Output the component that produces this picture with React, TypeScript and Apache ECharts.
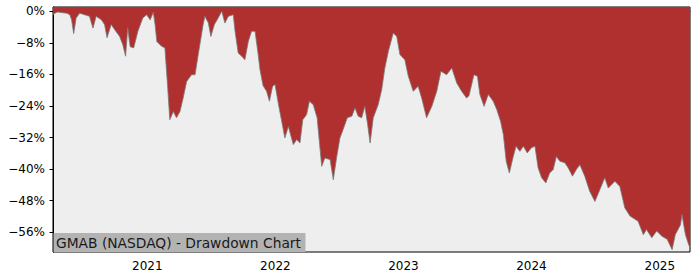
import React, { useEffect, useRef } from "react";
import * as echarts from "echarts";

const dates: string[] = [
  "2020-04-07","2020-04-15","2020-04-20","2020-05-05","2020-05-16","2020-05-25","2020-05-30","2020-06-05",
  "2020-06-12","2020-06-22","2020-07-06","2020-07-20","2020-07-30","2020-08-08","2020-08-23","2020-09-01",
  "2020-09-08","2020-09-20","2020-09-30","2020-10-14","2020-10-23","2020-10-31","2020-11-06","2020-11-13",
  "2020-11-23","2020-12-05","2020-12-19","2020-12-30",
  "2021-01-09","2021-01-18","2021-01-23","2021-01-28","2021-02-06","2021-02-11","2021-02-20","2021-02-28",
  "2021-03-06","2021-03-16","2021-03-25","2021-04-04","2021-04-13","2021-04-23","2021-05-07","2021-05-17",
  "2021-05-26","2021-06-09","2021-06-14","2021-06-24","2021-07-01","2021-07-11","2021-07-22","2021-08-01",
  "2021-08-10","2021-08-20","2021-09-03","2021-09-08","2021-09-17","2021-09-27","2021-10-06","2021-10-16",
  "2021-10-25","2021-11-04","2021-11-13","2021-11-18","2021-11-27","2021-12-07","2021-12-15","2021-12-24",
  "2021-12-31",
  "2022-01-10","2022-01-19","2022-01-28","2022-02-07","2022-02-21","2022-03-03","2022-03-12","2022-03-20",
  "2022-03-31","2022-04-08","2022-04-19","2022-04-30","2022-05-13","2022-05-22","2022-06-06","2022-06-15",
  "2022-06-25","2022-07-04","2022-07-13","2022-07-25","2022-08-07","2022-08-16","2022-08-25","2022-09-04",
  "2022-09-13","2022-09-21","2022-09-28","2022-10-07","2022-10-21","2022-10-31","2022-11-09","2022-11-19",
  "2022-12-03","2022-12-13","2022-12-22",
  "2023-01-05","2023-01-15","2023-01-29","2023-02-12","2023-02-22","2023-03-08","2023-03-23","2023-04-06",
  "2023-04-18","2023-05-04","2023-05-19","2023-06-02","2023-06-16","2023-06-30","2023-07-07","2023-07-21",
  "2023-07-31","2023-08-07","2023-08-19","2023-08-31","2023-09-14","2023-09-24","2023-10-05","2023-10-13",
  "2023-10-21","2023-10-30","2023-11-09","2023-11-18","2023-11-29","2023-12-09","2023-12-20",
  "2024-01-01","2024-01-11","2024-01-20","2024-01-30","2024-02-11","2024-02-22","2024-03-03","2024-03-12",
  "2024-03-22","2024-04-05","2024-04-15","2024-04-27","2024-05-08","2024-05-18","2024-06-01","2024-06-15",
  "2024-06-30","2024-07-14","2024-07-28","2024-08-07","2024-08-26","2024-09-09","2024-09-23","2024-10-08",
  "2024-10-31","2024-11-15","2024-11-24","2024-12-09","2024-12-23",
  "2025-01-07","2025-01-22","2025-02-05","2025-02-14","2025-03-01","2025-03-05","2025-03-15","2025-03-24",
  "2025-03-28"
];

const drawdown: number[] = [
  -0.9,-0.4,-0.2,-0.4,-0.5,-0.9,-2.2,-5.7,
  -1.7,-0.5,-0.9,-1.3,-4.3,-1.3,-2.2,-3.4,
  -6.7,-3.4,-4.7,-6.4,-8.5,-11.4,-4.2,-9.0,
  -9.3,-5.1,-1.7,-0.9,
  -2.2,-0.3,-3.4,-7.7,-8.5,-8.9,-9.3,-19.4,
  -27.5,-25.4,-27.0,-25.4,-22.0,-17.8,-16.1,-16.1,
  -11.0,-3.4,-1.3,-3.0,-6.4,-3.4,-1.7,0,
  -3.0,-1.3,-0.9,-5.1,-10.6,-11.4,-12.3,-7.6,
  -5.1,-5.1,-11.0,-14.8,-18.9,-20.3,-22.8,-19.0,
  -18.6,
  -23.7,-27.9,-32.1,-29.2,-33.8,-32.5,-33.4,-27.5,
  -26.2,-22.8,-23.7,-27.0,-39.3,-37.2,-37.6,-42.7,
  -36.8,-32.1,-30.0,-27.0,-26.6,-24.5,-26.6,-27.0,
  -24.1,-28.7,-33.4,-27.0,-23.7,-19.9,-14.4,-10.2,
  -5.5,-6.4,-11.0,
  -12.3,-16.5,-20.3,-19.0,-22.0,-27.0,-24.1,-20.3,
  -15.2,-16.1,-14.4,-18.2,-20.3,-22.0,-21.4,-16.1,
  -16.5,-21.1,-24.1,-21.1,-22.8,-24.9,-27.9,-31.3,
  -38.0,-41.0,-37.2,-34.2,-35.5,-34.2,-35.9,
  -34.6,-34.2,-39.7,-42.2,-43.5,-41.0,-40.1,-36.8,
  -38.0,-38.4,-39.7,-41.8,-40.1,-38.9,-41.8,-45.6,
  -48.2,-45.2,-42.2,-44.8,-43.1,-44.4,-49.8,-51.9,
  -53.2,-56.6,-55.3,-57.4,-55.7,
  -57.0,-57.8,-60.4,-56.6,-54.1,-51.5,-56.6,-59.1,
  -59.9
];

const yTicks: number[] = [0, -8, -16, -24, -32, -40, -48, -56];
const yearTicks: number[] = [2021, 2022, 2023, 2024, 2025];
const xStart = "2020-04-07";
const xEnd = "2025-03-28";
const title = "GMAB (NASDAQ) - Drawdown Chart";

const ts = (s: string) => Date.parse(s + "T00:00:00Z");

export default function App() {
  const ref = useRef<HTMLDivElement>(null);
  useEffect(() => {
    if (!ref.current) return;
    const chart = echarts.init(ref.current, null, { renderer: "svg" });
    const yearTs = yearTicks.map((y) => Date.UTC(y, 0, 1));
    const font = "DejaVu Sans";
    chart.setOption({
      animation: false,
      backgroundColor: "#ffffff",
      grid: {
        left: 53,
        right: 10,
        top: 7,
        bottom: 28,
        show: true,
        backgroundColor: "#eeeeee",
        borderColor: "#000000",
        borderWidth: 1,
      },
      xAxis: {
        type: "value",
        min: ts(xStart),
        max: ts(xEnd),
        splitLine: { show: false },
        axisLine: { show: true, lineStyle: { color: "#000", width: 1 } },
        axisTick: {
          show: true,
          length: 3.5,
          lineStyle: { color: "#000" },
          customValues: yearTs,
        },
        axisLabel: {
          customValues: yearTs,
          formatter: (v: number) => String(new Date(v).getUTCFullYear()),
          color: "#000",
          fontFamily: font,
          fontSize: 12,
          margin: 8,
        },
      },
      yAxis: {
        type: "value",
        min: -61,
        max: 1.06,
        splitLine: { show: false },
        axisLine: { show: true, lineStyle: { color: "#000", width: 1 } },
        axisTick: {
          show: true,
          length: 3.5,
          lineStyle: { color: "#000" },
          customValues: yTicks,
        },
        axisLabel: {
          customValues: yTicks,
          formatter: (v: number) => (v < 0 ? "\u2212" + Math.abs(v) : String(v)) + "%",
          color: "#000",
          fontFamily: font,
          fontSize: 12,
          margin: 8,
        },
      },
      series: [
        {
          type: "line",
          data: dates.map((d, i) => [ts(d), drawdown[i]]),
          showSymbol: false,
          symbol: "none",
          lineStyle: { color: "#7a7a7a", width: 0.8 },
          areaStyle: { origin: "end", color: "#b03030", opacity: 1 },
          z: 2,
        },
      ],
      graphic: [
        {
          type: "rect",
          shape: { x: 53.5, y: 233, width: 252, height: 19 },
          style: { fill: "#b3b3b3" },
          z: 10,
        },
        {
          type: "text",
          x: 56,
          y: 242.5,
          style: {
            text: title,
            fontFamily: font,
            fontSize: 13.8,
            fill: "#1a1a1a",
            verticalAlign: "middle",
            align: "left",
          },
          z: 11,
        },
      ],
    });
    return () => chart.dispose();
  }, []);
  return (
    <div
      ref={ref}
      style={{ position: "fixed", left: 0, top: 0, width: 700, height: 280 }}
    />
  );
}
